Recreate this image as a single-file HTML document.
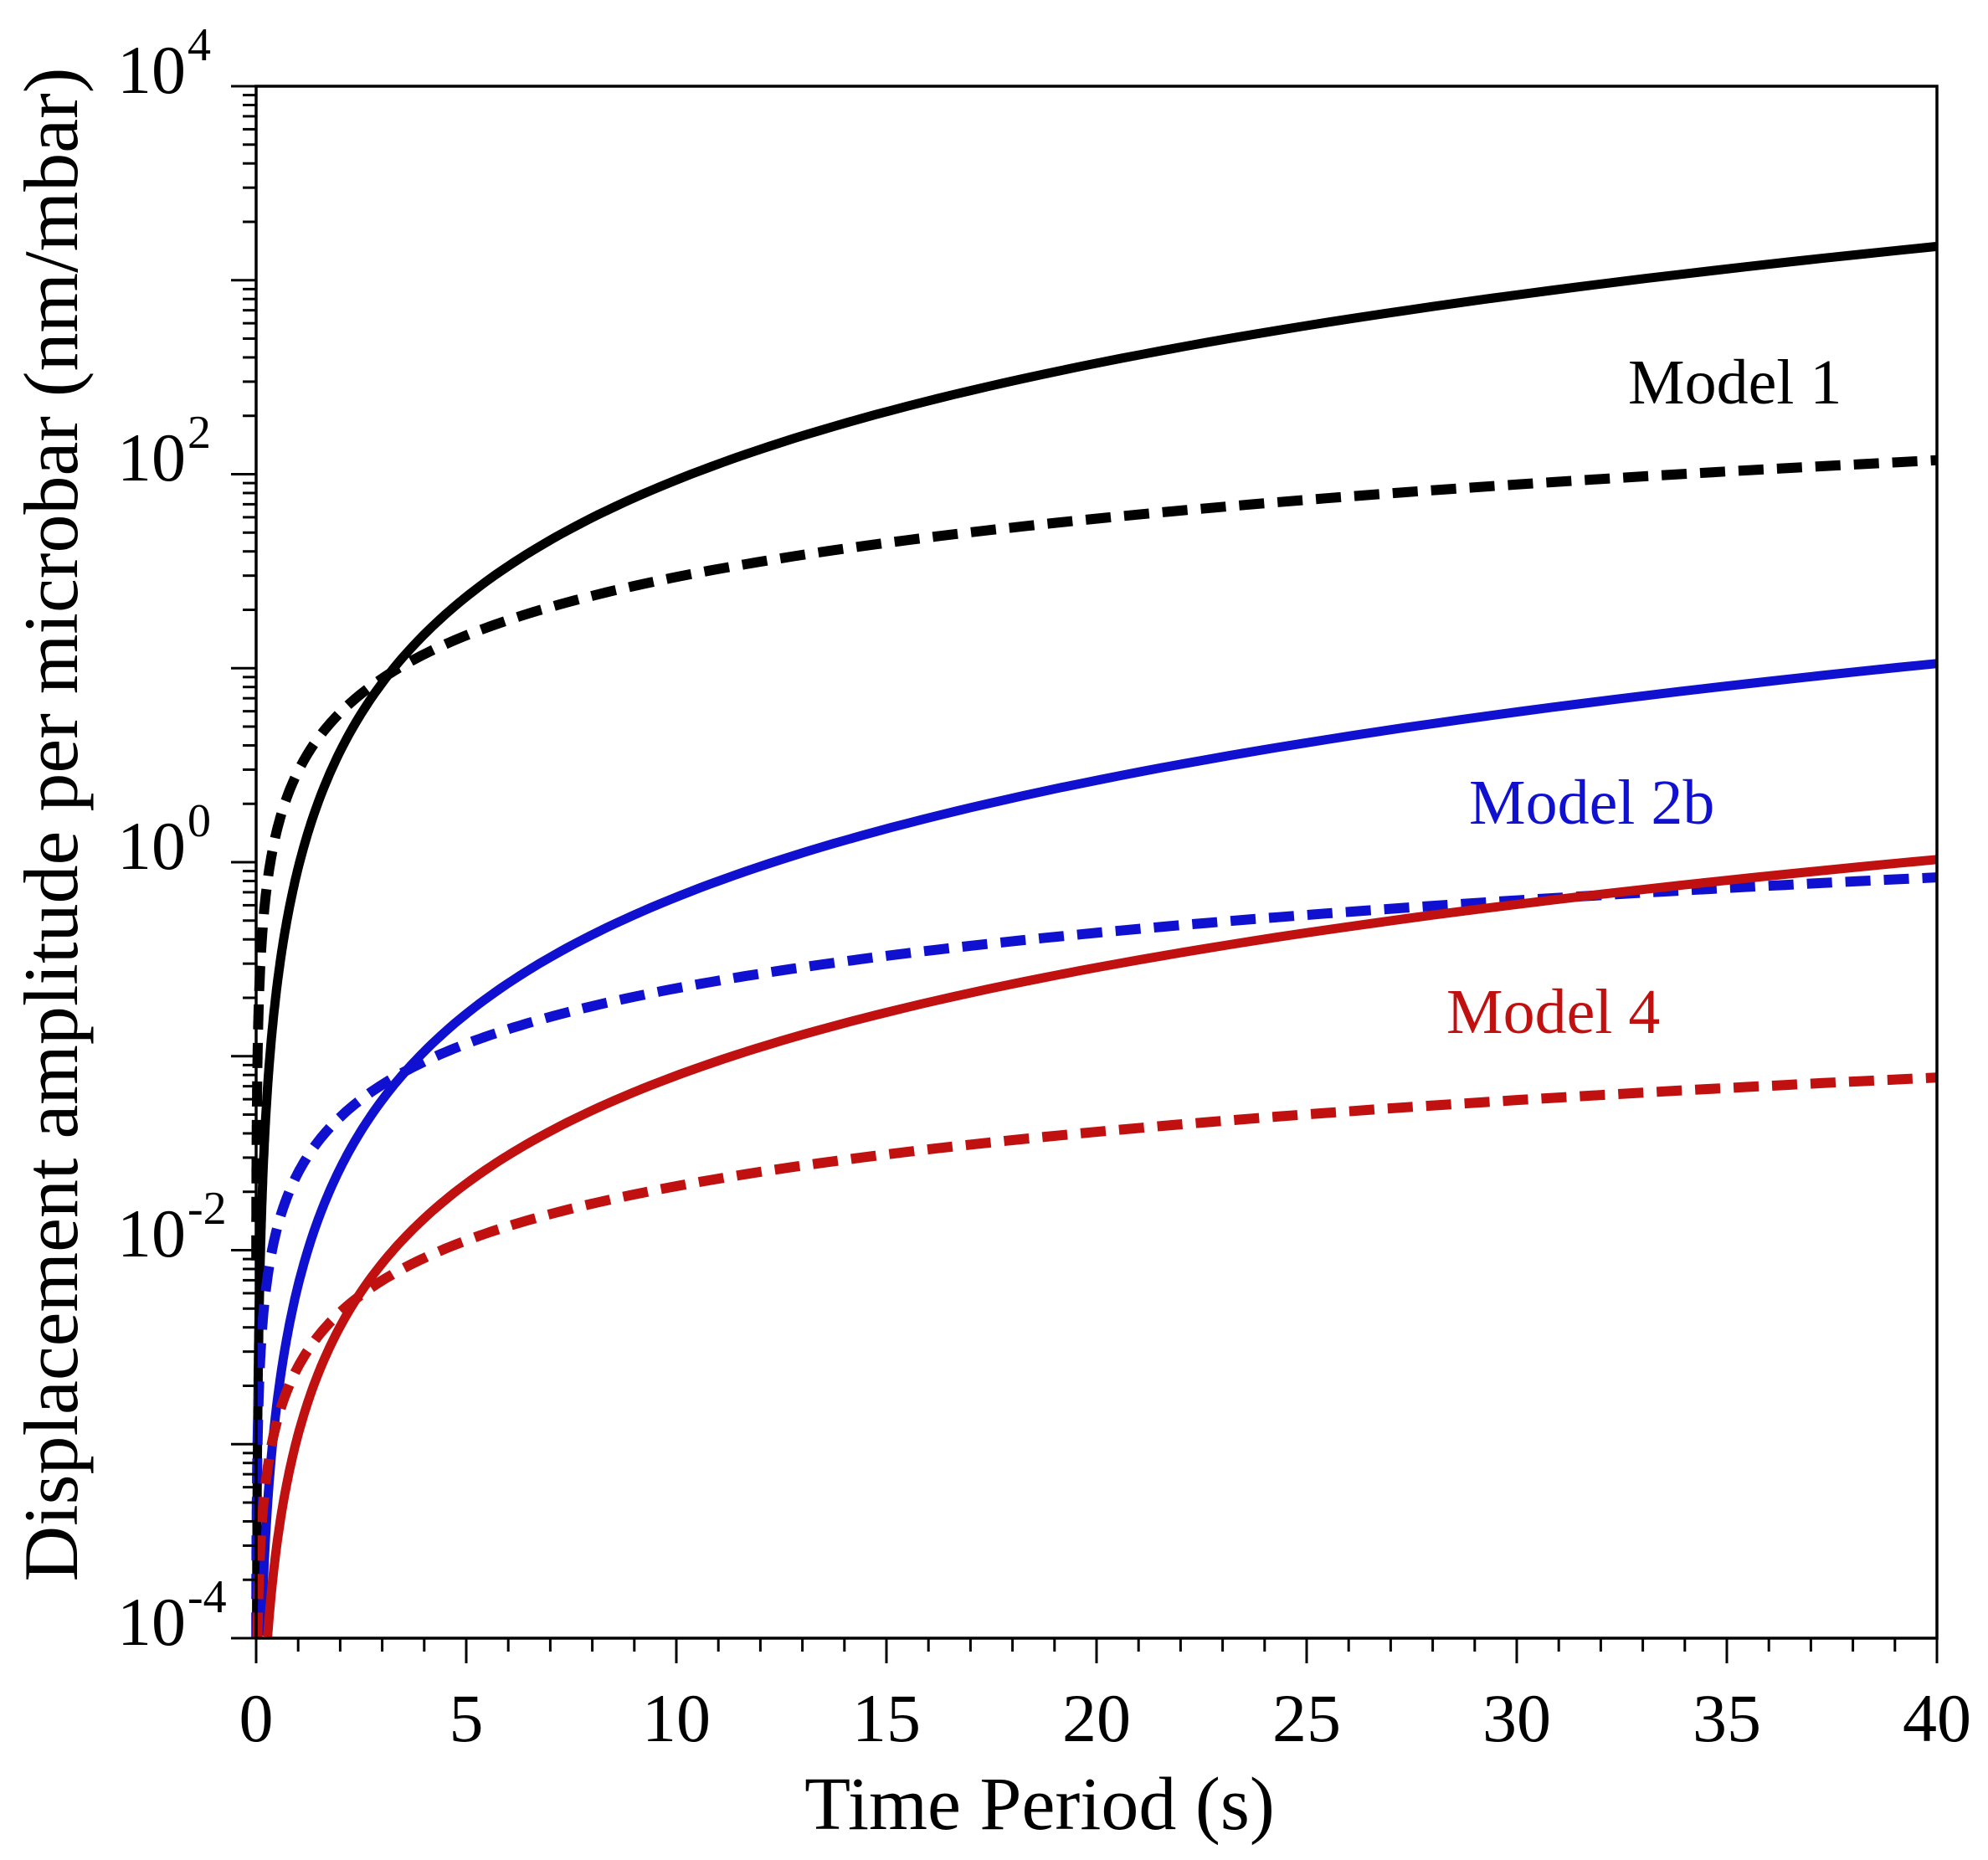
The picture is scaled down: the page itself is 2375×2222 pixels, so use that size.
<!DOCTYPE html>
<html><head><meta charset="utf-8">
<style>
html,body{margin:0;padding:0;background:#fff;}
svg{display:block;}
text{font-family:"Liberation Serif",serif;}
</style></head>
<body>
<svg id="s" width="2375" height="2222" viewBox="0 0 2375 2222" xmlns="http://www.w3.org/2000/svg">
<rect width="2375" height="2222" fill="#fff"/>
<g id="curves"></g>
<g id="ticks" stroke="#000" stroke-width="3"></g>
<rect x="306" y="103" width="2008" height="1854" fill="none" stroke="#000" stroke-width="3.5"/>
<g font-size="82" fill="#000" text-anchor="middle">
<text x="306" y="2080">0</text>
<text x="557" y="2080">5</text>
<text x="808" y="2080">10</text>
<text x="1059" y="2080">15</text>
<text x="1310" y="2080">20</text>
<text x="1561" y="2080">25</text>
<text x="1812" y="2080">30</text>
<text x="2063" y="2080">35</text>
<text x="2314" y="2080">40</text>
</g>
<g font-size="82" fill="#000" text-anchor="end">
<text x="222" y="111">10</text><text x="224" y="72" text-anchor="start" font-size="56">4</text>
<text x="222" y="574">10</text><text x="224" y="535" text-anchor="start" font-size="56">2</text>
<text x="222" y="1038">10</text><text x="224" y="999" text-anchor="start" font-size="56">0</text>
<text x="222" y="1501">10</text><text x="224" y="1462" text-anchor="start" font-size="56">-2</text>
<text x="222" y="1965">10</text><text x="224" y="1926" text-anchor="start" font-size="56">-4</text>
</g>
<text x="1242" y="2185" font-size="90" text-anchor="middle">Time Period (s)</text>
<text transform="translate(92,985) rotate(-90)" font-size="92" text-anchor="middle">Displacement amplitude per microbar (nm/mbar)</text>
<text x="1945" y="482" font-size="76" fill="#000">Model 1</text>
<text x="1755" y="984" font-size="76" fill="#1010d0">Model 2b</text>
<text x="1728" y="1234" font-size="76" fill="#c01010">Model 4</text>
</svg>
<script>
(function(){
var NS="http://www.w3.org/2000/svg";
function X(t){return 306+t*50.2;}
function Y(l){return 103+(4-l)*231.75;}
var tk=document.getElementById('ticks');
function line(x1,y1,x2,y2){var e=document.createElementNS(NS,'line');e.setAttribute('x1',x1);e.setAttribute('y1',y1);e.setAttribute('x2',x2);e.setAttribute('y2',y2);tk.appendChild(e);}
for(var i=0;i<=40;i++){var x=X(i);line(x,1957,x,1957+(i%5==0?30:16));}
for(var d=-4;d<=4;d++){line(276,Y(d),306,Y(d));if(d<4){for(var m=2;m<=9;m++){var y=Y(d+Math.log10(m));line(290,y,306,y);}}}
var cv=document.getElementById('curves');
function curve(a,b,col,dash){var p=[];for(var k=0;k<=400;k++){var t=0.003*Math.pow(40/0.003,k/400);var l=a+b*Math.log10(t);if(l<-4)continue;p.push(X(t).toFixed(1)+','+Y(l).toFixed(1));}
var e=document.createElementNS(NS,'polyline');e.setAttribute('points',p.join(' '));e.setAttribute('fill','none');e.setAttribute('stroke',col);e.setAttribute('stroke-width',dash?12:11);if(dash)e.setAttribute('stroke-dasharray','30 16');cv.appendChild(e);}
curve(-0.03,2,'#000',false);
curve(0.47,1,'#000',true);
curve(-2.18,2,'#1010d0',false);
curve(-1.6,0.95,'#1010d0',true);
curve(-2.95,1.85,'#c01010',false);
curve(-2.6,0.93,'#c01010',true);
})();
</script>
</body></html>
